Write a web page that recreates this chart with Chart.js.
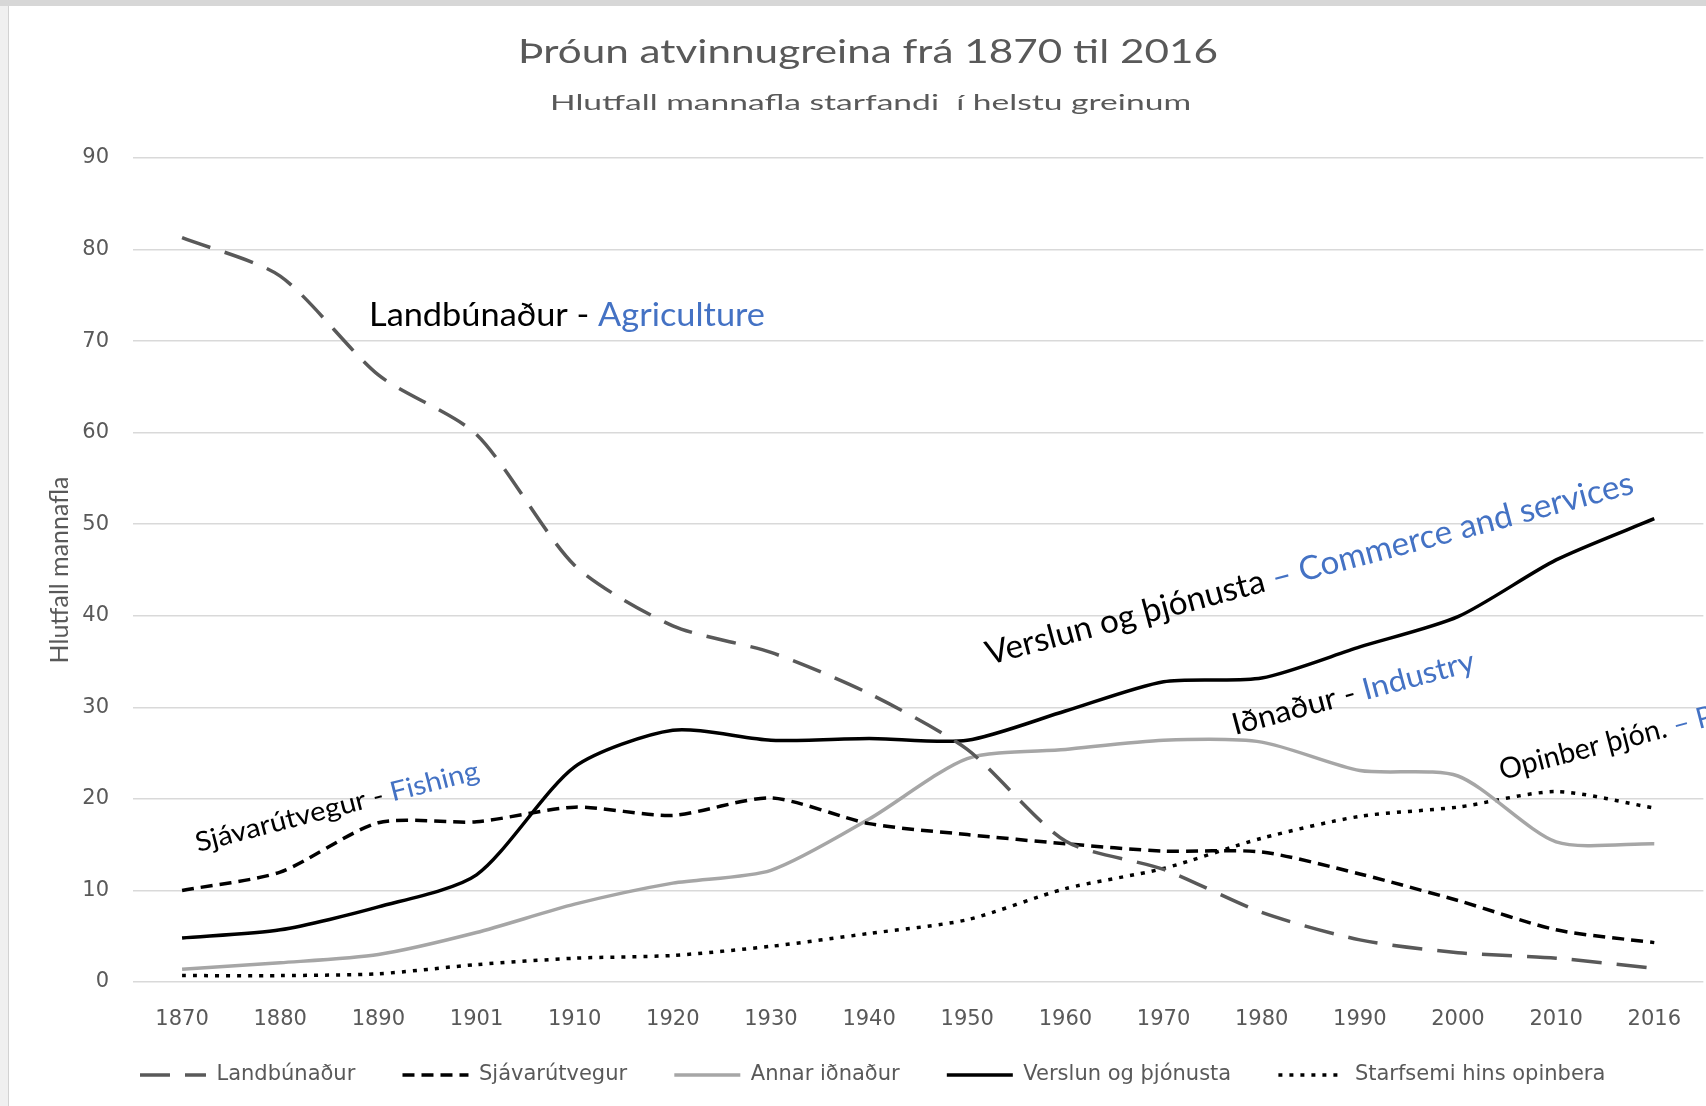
<!DOCTYPE html>
<html lang="is">
<head>
<meta charset="utf-8">
<title>Þróun atvinnugreina frá 1870 til 2016</title>
<script src="https://cdn.jsdelivr.net/npm/chart.js@4.4.1/dist/chart.umd.min.js"></script>
<style>
  html, body { margin: 0; padding: 0; background: #fff; }
  #wrap { position: relative; width: 1706px; height: 1106px; overflow: hidden; }
  #wrap canvas { position: absolute; left: 0; top: 0; }
  .band-top { position: absolute; left: 0; top: 0; width: 1706px; height: 6px; background: #d7d7d7; z-index: 2; }
  .band-left { position: absolute; left: 0; top: 6px; width: 8px; height: 1100px; background: #f0f0f0; border-right: 1px solid #d2d2d2; z-index: 2; }
</style>
</head>
<body>
<div id="wrap">
  <canvas id="chart" width="1706" height="1106"></canvas>
  <div class="band-top"></div>
  <div class="band-left"></div>
</div>
<script>
// ár (flokkar á x-ás)
const years = ['1870', '1880', '1890', '1901', '1910', '1920', '1930', '1940',
               '1950', '1960', '1970', '1980', '1990', '2000', '2010', '2016'];

// hlutfall mannafla, %
const landbunadur   = [81.3, 77.1, 66.3, 59.8, 45.5, 38.9, 36.0, 31.5, 25.4, 15.4, 12.3, 7.6, 4.6, 3.2, 2.6, 1.5];
const sjavarutvegur = [10.0, 12.0, 17.4, 17.5, 19.1, 18.2, 20.1, 17.3, 16.1, 15.1, 14.3, 14.2, 11.8, 8.9, 5.7, 4.3];
const annarIdnadur  = [1.4, 2.1, 3.0, 5.4, 8.5, 10.8, 12.2, 17.8, 24.4, 25.4, 26.4, 26.2, 23.1, 22.5, 15.3, 15.1];
const verslun       = [4.8, 5.7, 8.2, 11.7, 23.5, 27.5, 26.4, 26.6, 26.4, 29.6, 32.8, 33.2, 36.6, 39.9, 46.1, 50.6];
const opinbera      = [0.7, 0.7, 0.9, 1.9, 2.6, 2.9, 3.9, 5.3, 6.8, 10.2, 12.4, 15.7, 18.1, 19.1, 20.8, 19.0];

const yMin = 0, yMax = 90, yStep = 10;

const GREY_TXT = '#595959';
const BLUE = '#4472c4';
const TICK_FONT = { family: '"DejaVu Sans", sans-serif', size: 21 };
const LEGEND_GAP = '\u2002\u2009'; // smá aukabil á eftir hverjum lið í skýringunni

// texti sem er teiknaður ofan á myndina (titill og skýringar við línur)
const notes = [
  { parts: [['Þróun atvinnugreina frá 1870 til 2016', GREY_TXT]], x: 518, y: 63, size: 32, width: 700 },
  { parts: [['Hlutfall mannafla starfandi  í helstu greinum', GREY_TXT]], x: 550, y: 110, size: 22, width: 641 },
  { parts: [['Landbúnaður - ', '#000'], ['Agriculture', BLUE]], x: 369, y: 326, size: 33, width: 396 },
  { parts: [['Verslun og þjónusta ', '#000'], ['– Commerce and services', BLUE]], x: 989, y: 665, angle: 14.9, size: 33, width: 669 },
  { parts: [['Iðnaður - ', '#000'], ['Industry', BLUE]], x: 1235, y: 735, angle: 15, size: 30, width: 250 },
  { parts: [['Sjávarútvegur - ', '#000'], ['Fishing', BLUE]], x: 198, y: 852, angle: 14.5, size: 27, width: 292 },
  { parts: [['Opinber þjón.', '#000'], [' – Public services', BLUE]], x: 1502, y: 780, angle: 14.5, size: 29, width: 172, fit: 1 }
];

function drawNote(ctx, n) {
  ctx.save();
  ctx.font = `${n.size}px Lato, sans-serif`;
  const fitText = n.parts.slice(0, n.fit || n.parts.length).map(p => p[0]).join('');
  const sx = n.width / ctx.measureText(fitText).width;
  ctx.translate(n.x, n.y);
  ctx.rotate(-(n.angle || 0) * Math.PI / 180);
  ctx.scale(sx, 1);
  ctx.textAlign = 'left';
  ctx.textBaseline = 'alphabetic';
  let cx = 0;
  for (const [t, c] of n.parts) {
    ctx.fillStyle = c;
    ctx.fillText(t, cx, 0);
    cx += ctx.measureText(t).width;
  }
  ctx.restore();
}

const notesPlugin = {
  id: 'notes',
  afterDatasetsDraw(chart) {
    notes.forEach(n => drawNote(chart.ctx, n));
  }
};

function series(label, data, color, dash) {
  return {
    label, data,
    borderColor: color,
    backgroundColor: color,
    borderWidth: 3.5,
    borderDash: dash,
    tension: 0.25,
    pointRadius: 0,
    pointHoverRadius: 0,
    fill: false
  };
}

new Chart(document.getElementById('chart'), {
  type: 'line',
  data: {
    labels: years,
    datasets: [
      series('Landbúnaður', landbunadur, '#595959', [30, 15]),
      series('Sjávarútvegur', sjavarutvegur, '#000000', [12, 7]),
      series('Annar iðnaður', annarIdnadur, '#a6a6a6', []),
      series('Verslun og þjónusta', verslun, '#000000', []),
      series('Starfsemi hins opinbera', opinbera, '#000000', [4, 7])
    ]
  },
  options: {
    responsive: false,
    animation: false,
    events: [],
    layout: { padding: { left: 54, top: 158, right: 0, bottom: 10.5 } },
    scales: {
      x: {
        type: 'category',
        offset: true,
        grid: { display: false, drawTicks: false },
        border: { display: false },
        ticks: { color: GREY_TXT, font: TICK_FONT, padding: 25, maxRotation: 0, autoSkip: false },
        afterFit: s => { s.height = 50; }
      },
      y: {
        min: yMin, max: yMax,
        grid: { color: '#d9d9d9', lineWidth: 1.5, drawTicks: false },
        border: { display: false },
        ticks: { stepSize: yStep, color: GREY_TXT, font: TICK_FONT, padding: 24 },
        title: {
          display: true,
          text: 'Hlutfall mannafla',
          color: GREY_TXT,
          font: { family: 'Lato, sans-serif', size: 25, lineHeight: 0.5 },
          padding: 0
        },
        afterFit: s => { s.width = 79; }
      }
    },
    plugins: {
      tooltip: { enabled: false },
      legend: {
        position: 'bottom',
        labels: {
          usePointStyle: true,
          pointStyle: 'line',
          pointStyleWidth: 66,
          padding: 32.5,
          color: GREY_TXT,
          font: TICK_FONT,
          // línusýnin eiga að bera sama strik og línurnar sjálfar
          generateLabels: chart => chart.data.datasets.map((ds, i) => ({
            text: ds.label + LEGEND_GAP,
            datasetIndex: i,
            hidden: false,
            fontColor: GREY_TXT,
            fillStyle: ds.borderColor,
            strokeStyle: ds.borderColor,
            lineWidth: ds.borderWidth,
            lineDash: ds.borderDash,
            lineCap: 'butt',
            pointStyle: 'line'
          }))
        }
      }
    }
  },
  plugins: [notesPlugin]
});
</script>
</body>
</html>
